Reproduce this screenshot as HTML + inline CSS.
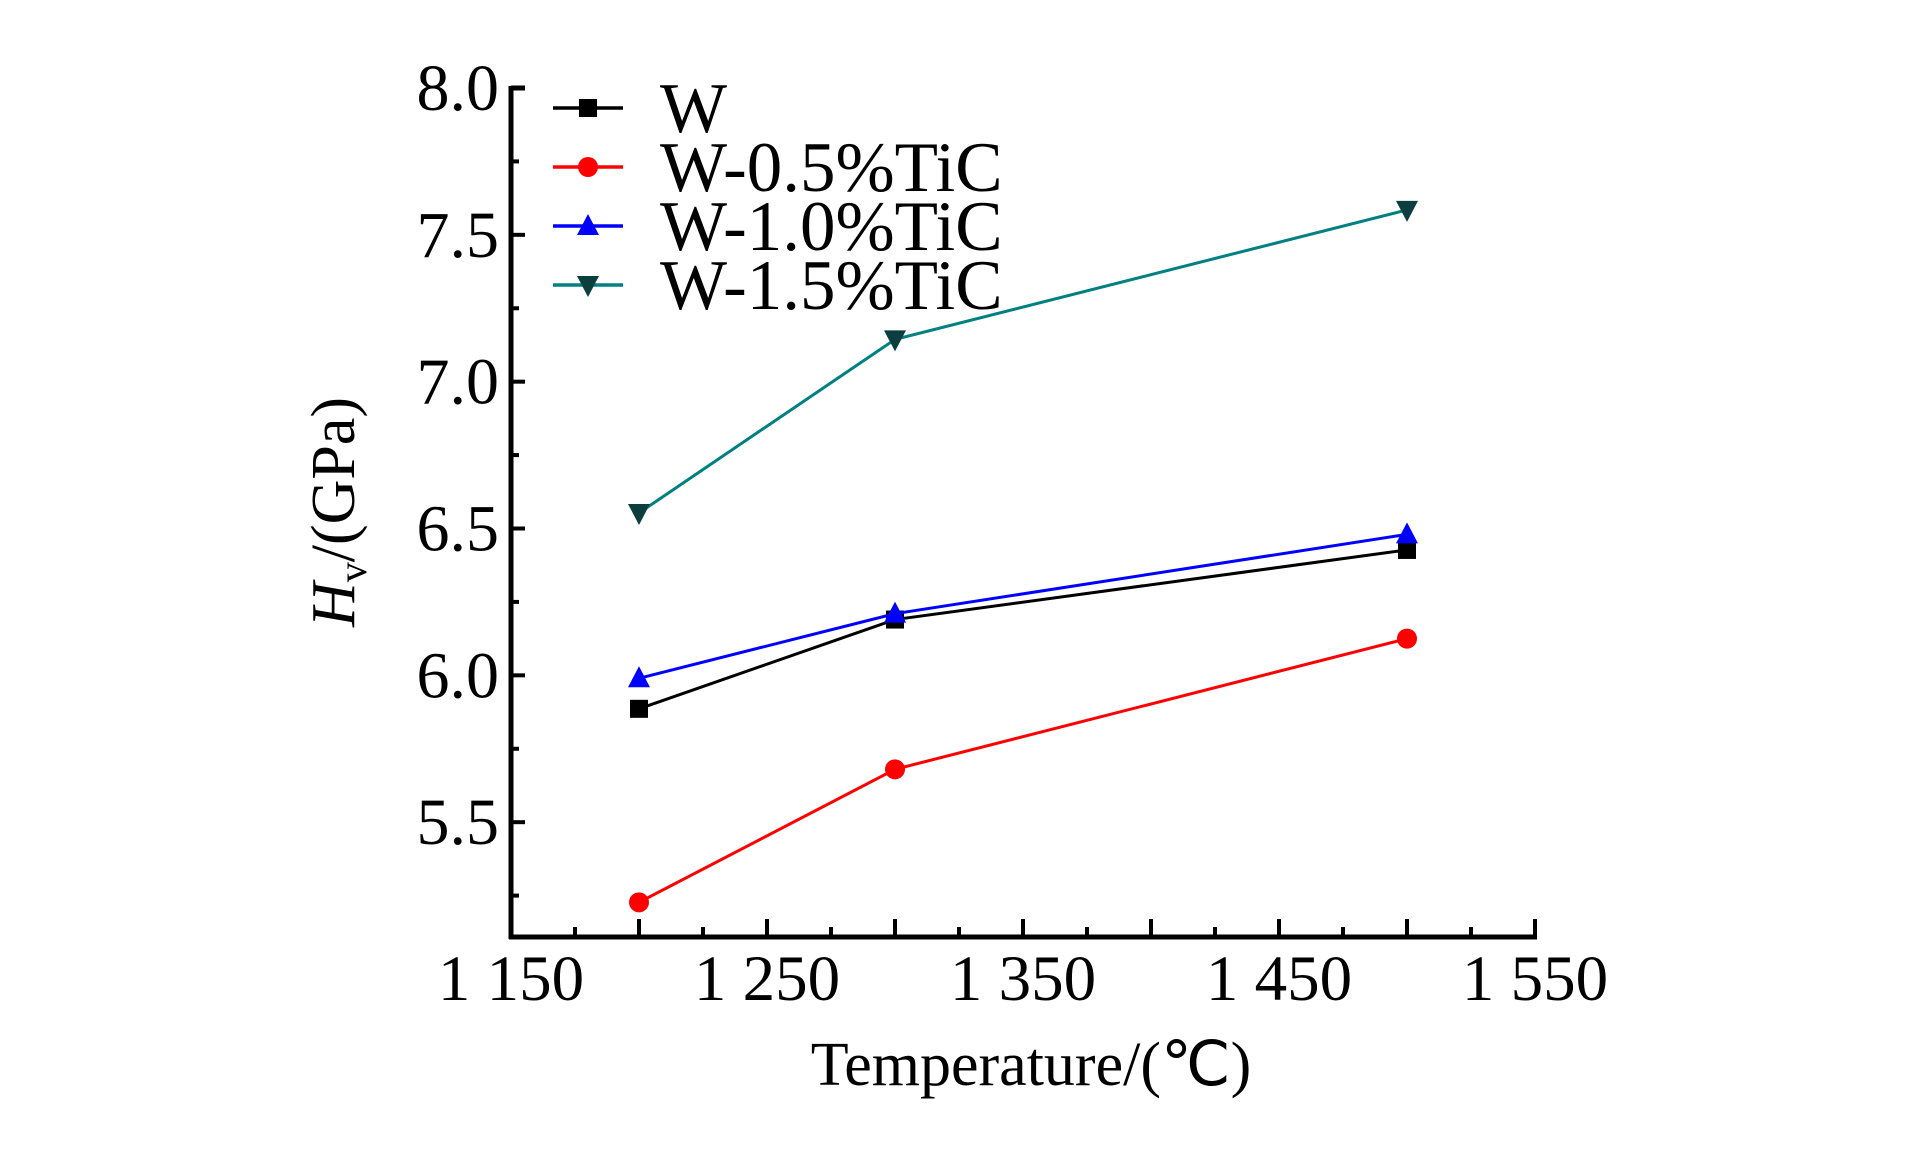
<!DOCTYPE html>
<html><head><meta charset="utf-8"><style>
html,body{margin:0;padding:0;background:#fff;}
svg{display:block;}
text{font-family:"Liberation Serif",serif;fill:#000;}
</style></head><body>
<svg id="chart" width="1923" height="1169" viewBox="0 0 1923 1169" xmlns="http://www.w3.org/2000/svg"></svg>
<script>
const temps = [1200, 1300, 1500];
const seriesW = [5.886, 6.19, 6.427];
const seriesTiC05 = [5.227, 5.68, 6.125];
const seriesTiC10 = [5.99, 6.21, 6.48];
const seriesTiC15 = [6.553, 7.144, 7.585];
const xTickLabels = ["1 150", "1 250", "1 350", "1 450", "1 550"];
const xTickValues = [1150, 1250, 1350, 1450, 1550];
const yTickLabels = ["5.5", "6.0", "6.5", "7.0", "7.5", "8.0"];
const yTickValues = [5.5, 6.0, 6.5, 7.0, 7.5, 8.0];
const seriesNames = ["W", "W-0.5%TiC", "W-1.0%TiC", "W-1.5%TiC"];

const NS = "http://www.w3.org/2000/svg";
const svg = document.getElementById("chart");
const X0 = 511, X1 = 1535, Y0 = 937, YTOP = 88;
const xMin = 1150, xMax = 1550, yMin = 5.109, yMax = 8.0;
const xs = v => X0 + (v - xMin) / (xMax - xMin) * (X1 - X0);
const ys = v => Y0 - (v - yMin) / (yMax - yMin) * (Y0 - YTOP);
function mk(tag, attrs, parent) {
  const e = document.createElementNS(NS, tag);
  for (const k in attrs) e.setAttribute(k, attrs[k]);
  (parent || svg).appendChild(e);
  return e;
}
const axes = mk("g", {});


const ya = mk("line", {x1: X0, y1: YTOP - 2, x2: X0, y2: Y0 + 2, stroke: "#000", "stroke-width": 5}, axes);


const xa = mk("line", {x1: X0 - 2, y1: Y0, x2: X1 + 2, y2: Y0, stroke: "#000", "stroke-width": 5}, axes);


mk("line", {x1: X0, y1: YTOP, x2: X0 + 14, y2: YTOP, stroke: "#000", "stroke-width": 5}, axes);
for (let v = 1150; v <= 1550; v += 25) {
  const major = (v - 1150) % 50 === 0;
  const t = mk("line", {x1: xs(v), y1: Y0, x2: xs(v), y2: Y0 - (major ? 18 : 10), stroke: "#000", "stroke-width": 4}, axes);
  
  
}
xTickValues.forEach((v, i) => {
  const t = mk("text", {x: xs(v), y: Y0 + 63, "text-anchor": "middle", "font-size": 65}, axes);
  t.textContent = xTickLabels[i];
  
  
});
for (let v = 5.25; v <= 8.0001; v += 0.25) {
  const major = Math.abs((v * 2) - Math.round(v * 2)) < 1e-6;
  const t = mk("line", {x1: X0, y1: ys(v), x2: X0 + (major ? 14 : 8), y2: ys(v), stroke: "#000", "stroke-width": 4}, axes);
  
  
}
yTickValues.forEach((v, i) => {
  const t = mk("text", {x: X0 - 12, y: ys(v) + 22, "text-anchor": "end", "font-size": 66}, axes);
  t.textContent = yTickLabels[i];
  
  
});
const xt = mk("text", {x: 1031, y: 1085, "text-anchor": "middle", "font-size": 62});
xt.textContent = "Temperature/(℃)";


const yt = mk("text", {x: 0, y: 0, "text-anchor": "middle", "font-size": 62, transform: "translate(354,512) rotate(-90)"});
yt.innerHTML = '<tspan font-style="italic">H</tspan><tspan font-size="40" dy="12">v</tspan><tspan dy="-12">/(GPa)</tspan>';



function marker(g, type, x, y, color) {
  let m;
  if (type === "square") m = mk("rect", {x: x - 9, y: y - 9, width: 18, height: 18, fill: color}, g);
  else if (type === "circle") m = mk("circle", {cx: x, cy: y, r: 10, fill: color}, g);
  else if (type === "up") m = mk("polygon", {points: `${x},${y-12} ${x-11},${y+9} ${x+11},${y+9}`, fill: color}, g);
  else m = mk("polygon", {points: `${x},${y+12} ${x-11},${y-9} ${x+11},${y-9}`, fill: color}, g);
  
  
}
const series = [
  {vals: seriesW, color: "#000", mcolor: "#000", type: "square"},
  {vals: seriesTiC05, color: "#ff0000", mcolor: "#ff0000", type: "circle"},
  {vals: seriesTiC10, color: "#0000ff", mcolor: "#0000ff", type: "up"},
  {vals: seriesTiC15, color: "#008080", mcolor: "#0b3f3f", type: "down"}
];
series.forEach((s, i) => {
  const g = mk("g", {});
  
  
  const pts = temps.map((t, j) => xs(t) + "," + ys(s.vals[j])).join(" ");
  mk("polyline", {points: pts, fill: "none", stroke: s.color, "stroke-width": 3}, g);
  temps.forEach((t, j) => marker(g, s.type, xs(t), ys(s.vals[j]), s.mcolor));
  const ly = 108 + i * 59;
  const le = mk("g", {});
  
  
  mk("line", {x1: 553, y1: ly, x2: 623, y2: ly, stroke: s.color, "stroke-width": 3.5}, le);
  marker(le, s.type, 588, ly, s.mcolor);
  const lt = mk("text", {x: 660, y: ly + 24, "font-size": 71}, le);
  lt.textContent = seriesNames[i];
});
</script>
</body></html>
